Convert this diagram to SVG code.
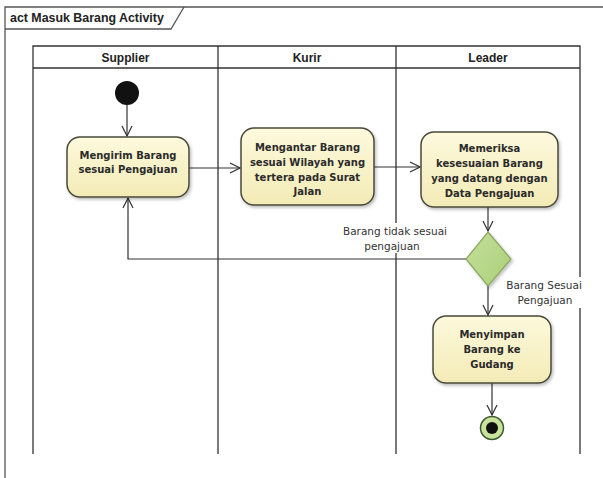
<svg xmlns="http://www.w3.org/2000/svg" width="603" height="478" viewBox="0 0 603 478">
  <style>
    .frame { fill: none; stroke: #555; stroke-width: 1.3; }
    .lane { fill: none; stroke: #333; stroke-width: 1.3; }
    .title { font-family: "Liberation Sans", Arial, sans-serif; font-size: 12.4px; font-weight: bold; fill: #222; }
    .hdr { font-family: "Liberation Sans", Arial, sans-serif; font-size: 12px; font-weight: bold; fill: #222; text-anchor: middle; }
    .act { fill: url(#actFill); stroke: #4a4a3a; stroke-width: 1.5; filter: url(#shadow); }
    .atext { font-family: "DejaVu Sans", "Liberation Sans", sans-serif; font-size: 10px; font-weight: bold; fill: #2b2b2b; text-anchor: middle; }
    .lbl { font-family: "DejaVu Sans", "Liberation Sans", sans-serif; font-size: 10.5px; fill: #333; text-anchor: middle; }
    .lblbg { fill: #fff; }
    .flow { fill: none; stroke: #333; stroke-width: 1.2; marker-end: url(#open); }
  </style>
  <defs>
    <linearGradient id="actFill" x1="0" y1="0" x2="0" y2="1">
      <stop offset="0" stop-color="#fdf9dc"/>
      <stop offset="1" stop-color="#f3ebb6"/>
    </linearGradient>
    <linearGradient id="decFill" x1="0" y1="0" x2="1" y2="1">
      <stop offset="0" stop-color="#c6e09c"/>
      <stop offset="1" stop-color="#a9cf78"/>
    </linearGradient>
    <filter id="shadow" x="-10%" y="-10%" width="125%" height="130%">
      <feDropShadow dx="1.5" dy="2" stdDeviation="1.5" flood-color="#000" flood-opacity="0.25"/>
    </filter>
    <marker id="open" viewBox="0 0 12 12" refX="11" refY="6" markerWidth="12" markerHeight="12" markerUnits="userSpaceOnUse" orient="auto">
      <path d="M1,1 L11,6 L1,11" fill="none" stroke="#333" stroke-width="1.2"/>
    </marker>
  </defs>

  <rect width="603" height="478" fill="#fff"/>

  <!-- diagram frame with name tab -->
  <g id="frame">
    <path class="frame" d="M5,478 V7 H603"/>
    <path class="frame" d="M5,29 H171 L184,7"/>
    <text class="title" x="10" y="22">act Masuk Barang Activity</text>
  </g>

  <!-- swimlanes -->
  <g id="lanes">
    <path class="lane" d="M33,454 V46 H580 V454 M33,68 H580 M218,46 V454 M396,46 V454"/>
    <text class="hdr" x="125.5" y="61.5">Supplier</text>
    <text class="hdr" x="307" y="61.5">Kurir</text>
    <text class="hdr" x="488" y="61.5">Leader</text>
  </g>

  <!-- connectors -->
  <g id="connectors">
    <path class="flow" d="M127,105 V136"/>
    <path class="flow" d="M189,168 H240"/>
    <path class="flow" d="M374,167 H420"/>
    <path class="flow" d="M488,207 V231"/>
    <path class="flow" d="M467,259 H128 V198"/>
    <path class="flow" d="M488,286 V315"/>
    <path class="flow" d="M492,383 V415"/>
    <rect class="lblbg" x="341" y="223" width="110" height="30"/>
    <text class="lbl" x="395" y="235">Barang tidak sesuai</text>
    <text class="lbl" x="392" y="250">pengajuan</text>
    <rect class="lblbg" x="502" y="277" width="84" height="31"/>
    <text class="lbl" x="544" y="289">Barang Sesuai</text>
    <text class="lbl" x="545" y="304">Pengajuan</text>
  </g>

  <g id="start">
    <circle cx="127" cy="93" r="12" fill="#111"/>
  </g>

  <g id="mengirim">
    <rect class="act" x="67" y="137" width="122" height="60" rx="13"/>
    <text class="atext" x="128" y="159">Mengirim Barang</text>
    <text class="atext" x="128" y="173">sesuai Pengajuan</text>
  </g>

  <g id="mengantar">
    <rect class="act" x="241" y="128" width="133" height="77" rx="13"/>
    <text class="atext" x="307.5" y="151">Mengantar Barang</text>
    <text class="atext" x="307.5" y="166">sesuai Wilayah yang</text>
    <text class="atext" x="307.5" y="181">tertera pada  Surat</text>
    <text class="atext" x="307.5" y="195">Jalan</text>
  </g>

  <g id="memeriksa">
    <rect class="act" x="421" y="132" width="137" height="75" rx="13"/>
    <text class="atext" x="489.5" y="152">Memeriksa</text>
    <text class="atext" x="489.5" y="167">kesesuaian Barang</text>
    <text class="atext" x="489.5" y="182">yang datang dengan</text>
    <text class="atext" x="489.5" y="197">Data Pengajuan</text>
  </g>

  <g id="keputusan">
    <path d="M488,232 L511,259 L488,286 L466,259 Z" fill="url(#decFill)" stroke="#8aa860" stroke-width="1.2" filter="url(#shadow)"/>
  </g>

  <g id="menyimpan">
    <rect class="act" x="433" y="316" width="118" height="67" rx="13"/>
    <text class="atext" x="492" y="338">Menyimpan</text>
    <text class="atext" x="492" y="353">Barang ke</text>
    <text class="atext" x="492" y="368">Gudang</text>
  </g>

  <g id="end">
    <circle cx="492" cy="428" r="11.5" fill="#c9e39f" stroke="#3d5a2a" stroke-width="1.5"/>
    <circle cx="492" cy="428" r="6" fill="#111"/>
  </g>
</svg>
